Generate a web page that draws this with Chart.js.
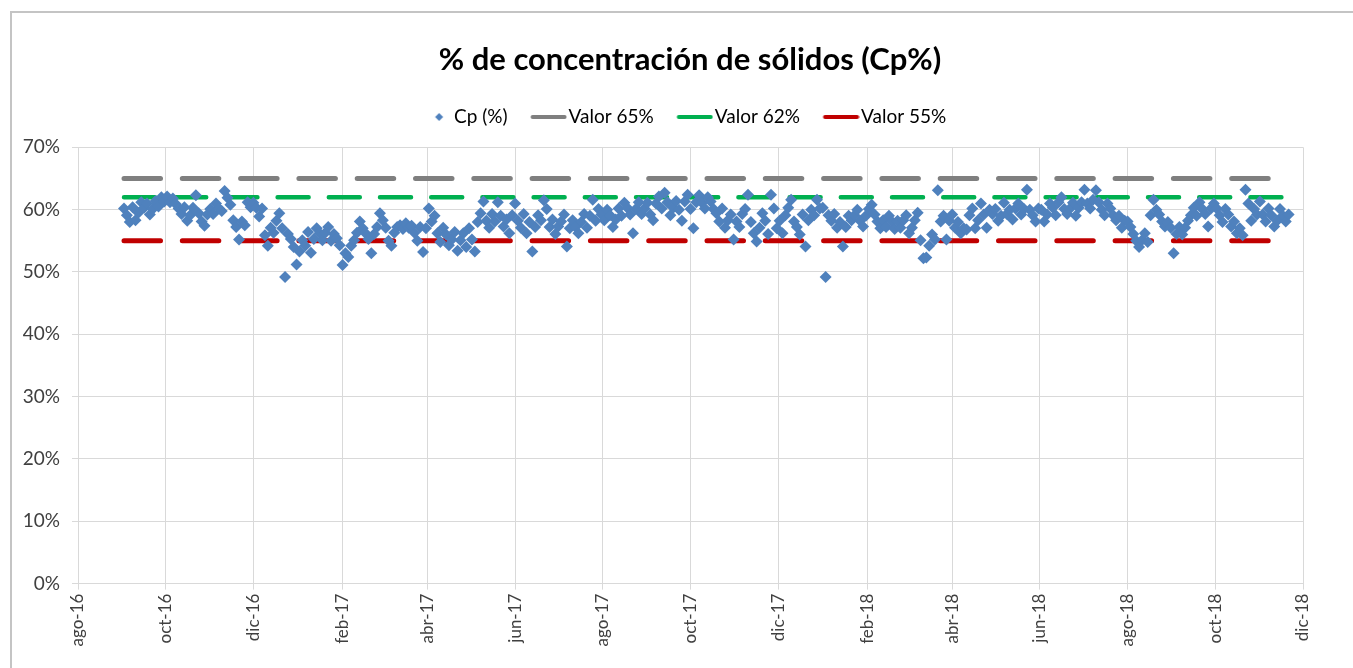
<!DOCTYPE html>
<html>
<head>
<meta charset="utf-8">
<title>% de concentración de sólidos (Cp%)</title>
<script src="https://cdn.jsdelivr.net/npm/chart.js@4.4.1/dist/chart.umd.min.js"></script>
<style>
    html, body { margin: 0; padding: 0; background: #fff; overflow: hidden; }
    #wrap { position: relative; width: 1353px; height: 668px; }
</style>
</head>
<body>
<div id="wrap"><canvas id="chart" width="1353" height="668"></canvas></div>
<script>
// Muestras cada 2 días desde el 2 de septiembre de 2016
const startDate = '2016-09-02';
const stepDays = 2;

// Cp (%), por año
const cp2016 = [
    // sep
    60.2, 59.1, 58.0, 60.4, 58.3, 59.5, 61.2, 60.3, 61.0, 59.2, 60.1, 61.4, 60.5, 62.0, 61.3,
    // oct
    62.1, 61.2, 61.8, 60.9, 60.2, 59.3, 60.4, 58.2, 59.1, 60.3, 62.3, 59.4, 58.1, 57.4, 59.2,
    // nov
    60.1, 59.3, 61.0, 60.2, 59.8, 63.0, 61.9, 60.8, 58.3, 57.2, 55.2, 58.1, 57.5, 61.2, 60.4,
    // dic
    61.1, 60.3, 58.9, 60.2, 55.9, 54.2, 57.1, 56.3, 58.2, 59.4, 57.0, 49.2, 56.1, 55.3, 54.0, 51.2
];
const cp2017 = [
    53.3, 55.1, 54.2, 56.4, 53.1, 55.3, 57.0, 56.2, 55.1, 56.3, 57.2, 55.0, 56.1, 55.4, 54.3,
    51.1, 53.0, 52.4, 54.2, 55.1, 56.3, 58.1, 57.0, 56.2, 55.3, 53.0, 56.1, 57.2, 59.4,
    58.3, 57.1, 55.0, 54.2, 56.3, 57.2, 57.5, 56.9, 57.8, 57.1, 57.4, 56.3, 55.0, 57.2, 53.2, 57.0,
    60.2, 58.1, 59.0, 56.2, 54.8, 57.1, 56.0, 54.3, 55.2, 56.4, 53.4, 55.1, 56.2, 54.0, 57.0,
    55.2, 53.3, 58.0, 59.4, 61.3, 58.2, 57.1, 59.3, 58.1, 61.2, 59.0, 57.3, 58.4, 56.2, 59.1,
    61.0, 58.2, 57.1, 59.3, 56.2, 58.0, 53.3, 57.2, 59.1, 58.3, 61.5, 60.1, 57.2, 58.4, 56.1,
    57.3, 58.1, 59.2, 54.1, 57.0, 58.3, 57.2, 56.2, 58.0, 59.3, 57.1, 59.0, 61.6, 58.2, 60.1, 59.2,
    58.3, 60.0, 59.1, 57.2, 58.4, 60.2, 59.0, 61.1, 60.3, 59.2, 56.2, 60.1, 61.2, 59.3, 60.2,
    61.1, 59.2, 58.3, 61.0, 62.1, 60.2, 62.7, 61.2, 59.1, 60.3, 61.4, 60.0, 58.2, 61.3, 62.4,
    60.1, 57.0, 61.2, 62.3, 61.1, 60.2, 62.0, 61.3, 60.1, 59.4, 58.1, 60.2, 57.1, 58.3, 59.2, 55.2,
    58.1, 57.2, 59.3, 60.1, 62.4, 58.0, 56.2, 54.9, 57.1, 59.4, 58.2, 56.1, 62.4, 60.2, 57.0,
    58.2, 56.2, 59.1, 60.3, 61.6, 58.1, 57.2, 56.0, 59.2, 54.1, 58.3, 60.0, 59.1, 61.6, 60.2
];
const cp2018 = [
    60.3, 49.2, 59.1, 58.2, 59.3, 57.1, 58.0, 54.1, 57.2, 59.0, 58.3, 59.1, 60.0, 58.2, 57.3, 59.0,
    60.1, 60.8, 59.2, 58.1, 57.0, 58.3, 57.2, 59.0, 58.1, 56.9, 58.2, 57.1, 58.3, 59.1,
    56.2, 57.1, 58.3, 59.5, 55.1, 52.2, 52.3, 54.2, 56.0, 55.2, 63.1, 58.1, 59.0, 55.2, 58.2,
    59.2, 57.1, 58.0, 56.2, 57.0, 56.8, 59.1, 60.2, 57.0, 58.3, 61.0, 59.2, 57.1, 60.0, 59.3,
    60.1, 58.2, 59.0, 61.1, 59.3, 60.0, 58.4, 60.2, 61.0, 59.2, 60.1, 63.2, 60.0, 59.1, 58.1, 60.2,
    60.0, 58.1, 59.2, 61.0, 60.3, 59.1, 61.2, 62.0, 60.1, 59.3, 60.2, 61.1, 59.0, 60.3, 61.2,
    63.2, 61.0, 60.2, 61.6, 63.1, 61.2, 60.0, 59.1, 61.0, 60.2, 59.1, 58.3, 59.0, 57.1, 58.2,
    58.1, 57.2, 56.1, 55.0, 54.0, 55.1, 56.2, 54.8, 59.1, 61.6, 60.0, 59.2, 58.1, 57.3, 58.0, 57.1,
    53.0, 56.1, 57.2, 56.0, 57.1, 58.2, 59.1, 60.3, 59.0, 61.2, 60.1, 59.3, 57.3, 60.2, 61.0,
    60.2, 59.1, 58.0, 60.1, 59.2, 57.3, 58.1, 56.2, 57.0, 55.9, 63.2, 61.0, 58.2, 60.1, 59.2,
    61.3, 59.2, 58.1, 60.2, 59.1, 57.3, 58.2, 60.1, 59.0, 58.1, 59.2
];

// Líneas de referencia
const limitNames = ['Valor 65%', 'Valor 62%', 'Valor 55%'];
const limitValues = [65, 62, 55];

// Eje X (cada 2 meses) y eje Y
const tickDates = ['2016-08-01', '2016-10-01', '2016-12-01', '2017-02-01', '2017-04-01',
    '2017-06-01', '2017-08-01', '2017-10-01', '2017-12-01', '2018-02-01', '2018-04-01',
    '2018-06-01', '2018-08-01', '2018-10-01', '2018-12-01'];
const tickLabels = ['ago-16', 'oct-16', 'dic-16', 'feb-17', 'abr-17', 'jun-17', 'ago-17',
    'oct-17', 'dic-17', 'feb-18', 'abr-18', 'jun-18', 'ago-18', 'oct-18', 'dic-18'];
const yMin = 0;
const yMax = 70;
const yStep = 10;

function dayNum(s) {
    const p = s.split('-').map(Number);
    return Date.UTC(p[0], p[1] - 1, p[2]) / 86400000;
}

const cpValues = cp2016.concat(cp2017, cp2018);
const firstDay = dayNum(startDate);
const cpPoints = cpValues.map((v, i) => ({ x: firstDay + i * stepDays, y: v }));
const lastDay = cpPoints[cpPoints.length - 1].x;

// iconos de la leyenda (línea corta o rombo pegados al texto)
function legendLine(color) {
    const c = document.createElement('canvas');
    c.width = 56; c.height = 8;
    const g = c.getContext('2d');
    g.strokeStyle = color; g.lineWidth = 4; g.lineCap = 'round';
    g.beginPath(); g.moveTo(21.5, 4); g.lineTo(53.5, 4); g.stroke();
    return c;
}
function legendDiamond(color) {
    const c = document.createElement('canvas');
    c.width = 56; c.height = 10;
    const g = c.getContext('2d');
    g.fillStyle = color;
    g.beginPath();
    g.moveTo(42.5, 1); g.lineTo(46.5, 5); g.lineTo(42.5, 9); g.lineTo(38.5, 5);
    g.closePath(); g.fill();
    return c;
}

const lineStyles = [
    { color: '#7f7f7f', width: 5, dash: [36.5, 21.8] },
    { color: '#00b050', width: 4.5, dash: [31, 20.2] },
    { color: '#c00000', width: 5, dash: [36.5, 21.8] }
];

const datasets = [{
    label: 'Cp (%)',
    data: cpPoints,
    order: 0,
    pointStyle: 'rectRot',
    pointRadius: 6,
    pointBorderWidth: 0,
    backgroundColor: '#4f81bd',
    borderColor: '#4f81bd',
    legendIcon: legendDiamond('#4f81bd')
}];
limitNames.forEach((name, k) => {
    const st = lineStyles[k];
    datasets.push({
        label: name,
        data: [{ x: firstDay, y: limitValues[k] }, { x: lastDay, y: limitValues[k] }],
        order: 1,
        showLine: true,
        pointRadius: 0,
        borderColor: st.color,
        backgroundColor: st.color,
        borderWidth: st.width,
        borderDash: st.dash,
        borderCapStyle: 'round',
        fill: false,
        legendIcon: legendLine(st.color)
    });
});

// marco gris del gráfico
const frame = {
    id: 'frame',
    beforeDraw(chart) {
        const ctx = chart.ctx;
        ctx.save();
        ctx.strokeStyle = '#c4c4c4';
        ctx.lineWidth = 2;
        ctx.beginPath();
        ctx.moveTo(11, 668);
        ctx.lineTo(11, 12);
        ctx.lineTo(1353, 12);
        ctx.stroke();
        ctx.restore();
    }
};

const gridColor = '#d9d9d9';
const textColor = '#404040';

new Chart(document.getElementById('chart'), {
    type: 'scatter',
    data: { datasets: datasets },
    options: {
        responsive: false,
        animation: false,
        events: [],
        // el gráfico original sigue más allá del borde derecho de la imagen
        layout: { padding: { left: 16, right: -11, top: 0, bottom: 0 } },
        plugins: {
            title: {
                display: true,
                text: '% de concentración de sólidos (Cp%)',
                color: '#000',
                font: { family: 'Lato', size: 31, weight: 'bold', lineHeight: 1.2 },
                padding: { top: 41.4, bottom: 17.4 }
            },
            subtitle: {
                display: true,
                text: '',
                position: 'top',
                weight: 500,
                font: { size: 1, lineHeight: 1 },
                padding: { top: 0, bottom: 9.8 }
            },
            legend: {
                position: 'top',
                labels: {
                    usePointStyle: true,
                    pointStyleWidth: 40,
                    padding: 11.5,
                    color: '#000',
                    font: { family: 'Lato', size: 19 },
                    generateLabels(chart) {
                        const items = Chart.defaults.plugins.legend.labels.generateLabels(chart);
                        items.forEach(it => {
                            it.pointStyle = chart.data.datasets[it.datasetIndex].legendIcon;
                            it.lineWidth = 0;
                        });
                        // espacio final para centrar la fila como en el original
                        items[items.length - 1].text += '      ';
                        return items;
                    }
                }
            },
            tooltip: { enabled: false }
        },
        scales: {
            x: {
                type: 'linear',
                min: dayNum(tickDates[0]),
                max: dayNum(tickDates[tickDates.length - 1]),
                afterBuildTicks: s => { s.ticks = tickDates.map(d => ({ value: dayNum(d) })); },
                afterFit: s => { s.height = 84.4; },
                grid: { color: gridColor, tickLength: 6 },
                border: { color: gridColor },
                ticks: {
                    autoSkip: false,
                    maxRotation: 90,
                    minRotation: 90,
                    padding: 4,
                    color: textColor,
                    font: { family: 'Lato', size: 17 },
                    callback: (v, i) => tickLabels[i]
                }
            },
            y: {
                min: yMin,
                max: yMax,
                afterFit: s => { s.width = 62; },
                grid: { color: gridColor, tickLength: 6 },
                border: { color: gridColor },
                ticks: {
                    stepSize: yStep,
                    padding: 12,
                    color: textColor,
                    font: { family: 'Lato', size: 19 },
                    callback: v => v + '%'
                }
            },
            y2: {
                position: 'right',
                afterFit: s => { s.width = 61; },
                grid: { display: false },
                border: { display: false },
                ticks: { display: false }
            }
        }
    },
    plugins: [frame]
});
</script>
</body>
</html>
